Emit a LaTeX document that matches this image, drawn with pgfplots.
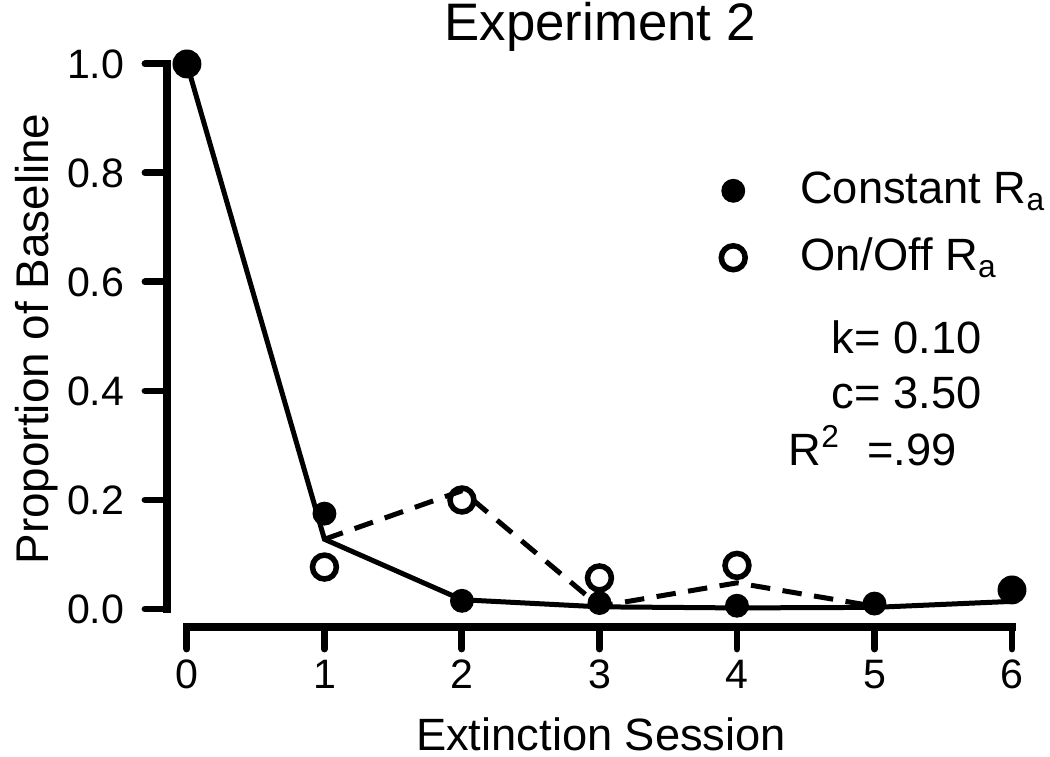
\documentclass[border=0pt]{standalone}
\usepackage{fontspec}
\setmainfont{Liberation Sans}
\usepackage{pgfplots}
\pgfplotsset{compat=1.18}

% Observed data: Constant R_a (filled)
\pgfplotstableread{
x y
0 1.000
1 0.175
2 0.015
3 0.011
4 0.006
5 0.010
6 0.035
}\constant
% Observed data: On/Off R_a (open)
\pgfplotstableread{
x y
1 0.077
2 0.200
3 0.057
4 0.080
}\onoff
% Model fit, constant
\pgfplotstableread{
x y
0 1.000
1 0.128
2 0.017
3 0.004
4 0.002
5 0.003
6 0.014
}\fitconst
% Model fit, on/off
\pgfplotstableread{
x y
1 0.128
2 0.217
3 0.005
4 0.048
5 0.005
}\fitonoff

\begin{document}
\begin{tikzpicture}
\useasboundingbox (0,0) rectangle (378bp,272.52bp);
\begin{axis}[
  at={(60.12bp,46.8bp)}, anchor=south west,
  scale only axis, width=304.2bp, height=202.7bp,
  xmin=-0.145, xmax=6, ymin=-0.033, ymax=1.0,
  clip=false,
  axis line style={draw=none},
  xtick={0,1,2,3,4,5,6}, ytick={0,0.2,0.4,0.6,0.8,1.0},
  xtick pos=bottom, ytick pos=left,
  tick align=outside, major tick length=7.9bp,
  tick style={black, line width=2.5bp, line cap=round},
  yticklabel style={xshift=-4bp, /pgf/number format/.cd, fixed, fixed zerofill, precision=1},
  xticklabel style={yshift=-0.5bp},
  /pgf/number format/assume math mode=true,
  ticklabel style={font=\fontsize{14.8bp}{17bp}\selectfont},
  legend cell align=left,
  legend image code/.code={\draw[#1] plot coordinates {(0cm,0cm)};},
  legend style={at={(0.6560,0.8117)}, anchor=north west, draw=none, fill=none,
    inner sep=0pt, outer sep=0pt, row sep=9.1bp, column sep=19.8bp,
    font=\fontsize{16.3bp}{19bp}\selectfont,
    nodes={inner sep=0pt, text height=12bp, text depth=3bp}},
]
\addplot[black, line width=1.8bp, forget plot] table {\fitconst};
\addplot[black, line width=1.8bp, dash pattern=on 7bp off 4.5bp, forget plot] table {\fitonoff};
\addplot[only marks, mark=*, mark size=4.1bp, black, mark options={fill=black}] table {\constant};
\addplot[only marks, mark=o, mark size=4.3bp, black, mark options={line width=2bp}] table {\onoff};
\addplot[only marks, mark=*, mark size=5bp, black, forget plot] coordinates {(0,1.0) (6,0.035)};
\legend{Constant R\textsubscript{a}, On/Off R\textsubscript{a}}
\draw[black, line width=2.9bp, line cap=rect] (axis cs:-0.145,0) -- (axis cs:-0.145,1);
\draw[black, line width=2.9bp, line cap=rect] (axis cs:0,-0.033) -- (axis cs:6,-0.033);
\end{axis}
\node[anchor=base, inner sep=0pt, font=\fontsize{19bp}{22bp}\selectfont] at (216bp,258.1bp) {Experiment 2};
\node[anchor=base, inner sep=0pt, font=\fontsize{16.3bp}{19bp}\selectfont] at (216.4bp,2.2bp) {Extinction Session};
\node[anchor=base, rotate=90, inner sep=0pt, font=\fontsize{16.5bp}{19bp}\selectfont] at (17.3bp,150.5bp) {Proportion of Baseline};
\node[anchor=base east, inner sep=0pt, font=\fontsize{16.3bp}{19bp}\selectfont] at (353.5bp,145.4bp) {k= 0.10};
\node[anchor=base east, inner sep=0pt, font=\fontsize{16.3bp}{19bp}\selectfont] at (353.5bp,125.6bp) {c= 3.50};
\node[anchor=base west, inner sep=0pt, font=\fontsize{16.3bp}{19bp}\selectfont] at (283.7bp,105.1bp) {R\textsuperscript{2}\hspace{0.6em}=.99};
\end{tikzpicture}
\end{document}
